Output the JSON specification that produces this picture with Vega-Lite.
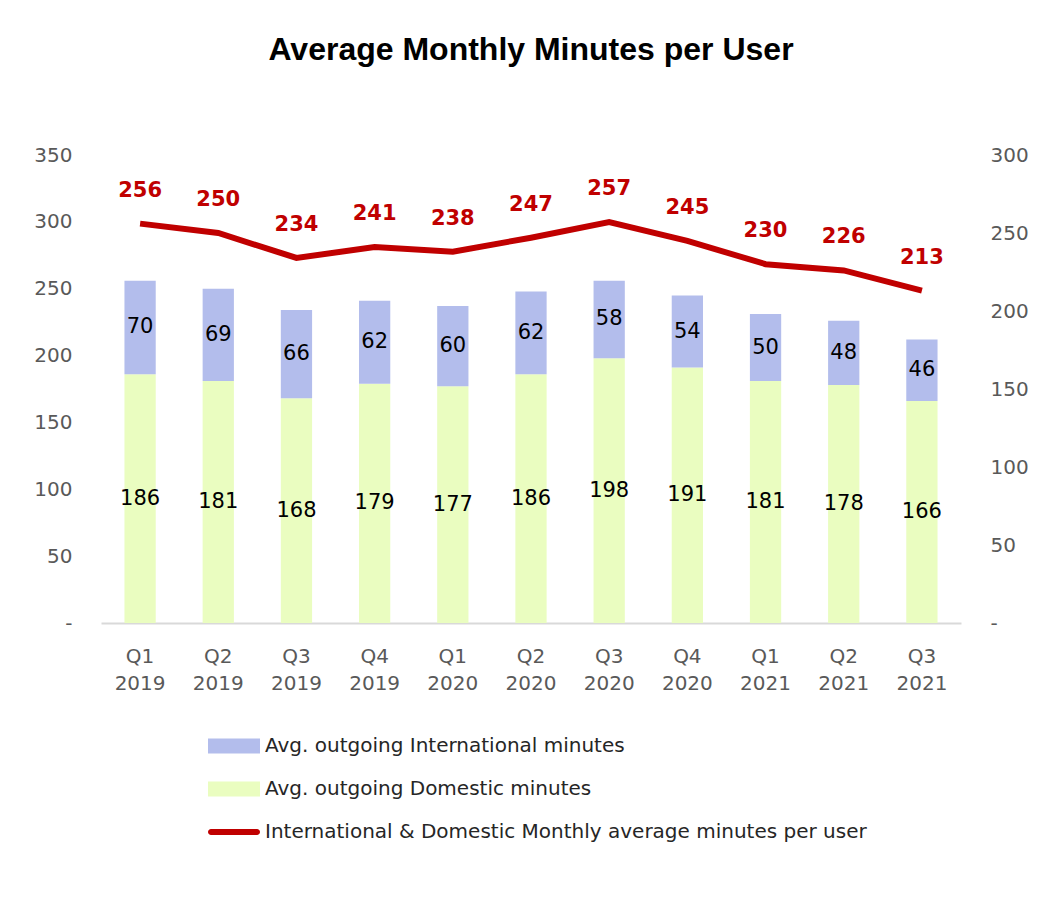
{
  "$schema": "https://vega.github.io/schema/vega-lite/v6.json",
  "width": 860,
  "height": 468,
  "autosize": "none",
  "padding": {"left": 101, "top": 155, "right": 77, "bottom": 276},
  "background": "white",
  "title": {"text": "Average Monthly Minutes per User", "anchor": "middle", "font": "Liberation Sans", "fontSize": 32, "fontWeight": "bold", "color": "#000000", "offset": 78},
  "config": {"view": {"stroke": null}, "font": "DejaVu Sans"},
  "datasets": {
    "segments": [
      {"quarter": "Q1 2019", "series": "Avg. outgoing Domestic minutes", "value": 186, "ord": 1},
      {"quarter": "Q1 2019", "series": "Avg. outgoing International minutes", "value": 70, "ord": 2},
      {"quarter": "Q2 2019", "series": "Avg. outgoing Domestic minutes", "value": 181, "ord": 1},
      {"quarter": "Q2 2019", "series": "Avg. outgoing International minutes", "value": 69, "ord": 2},
      {"quarter": "Q3 2019", "series": "Avg. outgoing Domestic minutes", "value": 168, "ord": 1},
      {"quarter": "Q3 2019", "series": "Avg. outgoing International minutes", "value": 66, "ord": 2},
      {"quarter": "Q4 2019", "series": "Avg. outgoing Domestic minutes", "value": 179, "ord": 1},
      {"quarter": "Q4 2019", "series": "Avg. outgoing International minutes", "value": 62, "ord": 2},
      {"quarter": "Q1 2020", "series": "Avg. outgoing Domestic minutes", "value": 177, "ord": 1},
      {"quarter": "Q1 2020", "series": "Avg. outgoing International minutes", "value": 60, "ord": 2},
      {"quarter": "Q2 2020", "series": "Avg. outgoing Domestic minutes", "value": 186, "ord": 1},
      {"quarter": "Q2 2020", "series": "Avg. outgoing International minutes", "value": 62, "ord": 2},
      {"quarter": "Q3 2020", "series": "Avg. outgoing Domestic minutes", "value": 198, "ord": 1},
      {"quarter": "Q3 2020", "series": "Avg. outgoing International minutes", "value": 58, "ord": 2},
      {"quarter": "Q4 2020", "series": "Avg. outgoing Domestic minutes", "value": 191, "ord": 1},
      {"quarter": "Q4 2020", "series": "Avg. outgoing International minutes", "value": 54, "ord": 2},
      {"quarter": "Q1 2021", "series": "Avg. outgoing Domestic minutes", "value": 181, "ord": 1},
      {"quarter": "Q1 2021", "series": "Avg. outgoing International minutes", "value": 50, "ord": 2},
      {"quarter": "Q2 2021", "series": "Avg. outgoing Domestic minutes", "value": 178, "ord": 1},
      {"quarter": "Q2 2021", "series": "Avg. outgoing International minutes", "value": 48, "ord": 2},
      {"quarter": "Q3 2021", "series": "Avg. outgoing Domestic minutes", "value": 166, "ord": 1},
      {"quarter": "Q3 2021", "series": "Avg. outgoing International minutes", "value": 46, "ord": 2}
    ],
    "totals": [
      {"quarter": "Q1 2019", "total": 256},
      {"quarter": "Q2 2019", "total": 250},
      {"quarter": "Q3 2019", "total": 234},
      {"quarter": "Q4 2019", "total": 241},
      {"quarter": "Q1 2020", "total": 238},
      {"quarter": "Q2 2020", "total": 247},
      {"quarter": "Q3 2020", "total": 257},
      {"quarter": "Q4 2020", "total": 245},
      {"quarter": "Q1 2021", "total": 230},
      {"quarter": "Q2 2021", "total": 226},
      {"quarter": "Q3 2021", "total": 213}
    ]
  },
  "encoding": {
    "x": {
      "field": "quarter", "type": "nominal", "sort": null,
      "scale": {"paddingInner": 0.6, "paddingOuter": 0.3},
      "axis": {"title": null, "labelAngle": 0, "ticks": false, "domain": true, "domainColor": "#D9D9D9", "domainWidth": 2, "labelColor": "#595959", "labelFontSize": 20, "labelPadding": 23, "labelLineHeight": 27, "labelExpr": "split(datum.label, ' ')", "grid": false}
    }
  },
  "layer": [
    {
      "data": {"name": "segments"},
      "transform": [
        {"stack": "value", "groupby": ["quarter"], "sort": [{"field": "ord", "order": "ascending"}], "as": ["v0", "v1"]},
        {"calculate": "(datum.v0 + datum.v1) / 2", "as": "mid"}
      ],
      "layer": [
        {
          "mark": {"type": "bar"},
          "encoding": {
            "y": {"field": "v1", "type": "quantitative", "scale": {"domain": [0, 350], "nice": false},
              "axis": {"title": null, "orient": "left", "values": [0, 50, 100, 150, 200, 250, 300, 350], "grid": false, "domain": false, "ticks": false, "labelPadding": 29, "labelFontSize": 20, "labelColor": "#595959", "labelExpr": "datum.value == 0 ? '-\u00a0\u00a0' : datum.label"}},
            "y2": {"field": "v0"},
            "color": {
              "field": "series", "type": "nominal",
              "scale": {"domain": ["Avg. outgoing International minutes", "Avg. outgoing Domestic minutes", "International & Domestic Monthly average minutes per user"], "range": ["#B3BDEC", "#EAFDC0", "#C00000"]},
              "legend": {
                "orient": "none", "legendX": 107, "legendY": 581, "direction": "vertical", "title": null,
                "padding": 0, "labelFontSize": 20, "labelColor": "#262626", "labelLimit": 0, "symbolSize": 400, "labelOffset": 37,
                "rowPadding": 23, "symbolStrokeWidth": 0, "symbolOpacity": 1,
                "encode": {"symbols": {"update": {"shape": {"signal": "datum.value == 'International & Domestic Monthly average minutes per user' ? 'M-0.7,-0.3H3.9A0.3,0.3,0,0,1,3.9,0.3H-0.7A0.3,0.3,0,0,1,-0.7,-0.3Z' : 'M-1,-0.75H4.2V0.75H-1Z'"}, "strokeWidth": {"value": 0}}}}
              }
            }
          }
        },
        {
          "mark": {"type": "text", "fontSize": 21, "color": "#000000"},
          "encoding": {
            "y": {"field": "mid", "type": "quantitative"},
            "text": {"field": "value", "type": "quantitative"}
          }
        }
      ]
    },
    {
      "data": {"name": "totals"},
      "layer": [
        {
          "mark": {"type": "line", "color": "#C00000", "strokeWidth": 6},
          "encoding": {
            "y": {"field": "total", "type": "quantitative", "scale": {"domain": [0, 300], "nice": false},
              "axis": {"title": null, "orient": "right", "values": [0, 50, 100, 150, 200, 250, 300], "grid": false, "domain": false, "ticks": false, "labelPadding": 29, "labelFontSize": 20, "labelColor": "#595959", "labelExpr": "datum.value == 0 ? '-' : datum.label"}}
          }
        },
        {
          "mark": {"type": "text", "fontSize": 21, "fontWeight": "bold", "color": "#C00000", "dy": -33},
          "encoding": {
            "y": {"field": "total", "type": "quantitative"},
            "text": {"field": "total", "type": "quantitative"}
          }
        }
      ]
    }
  ],
  "resolve": {"scale": {"y": "independent"}}
}
